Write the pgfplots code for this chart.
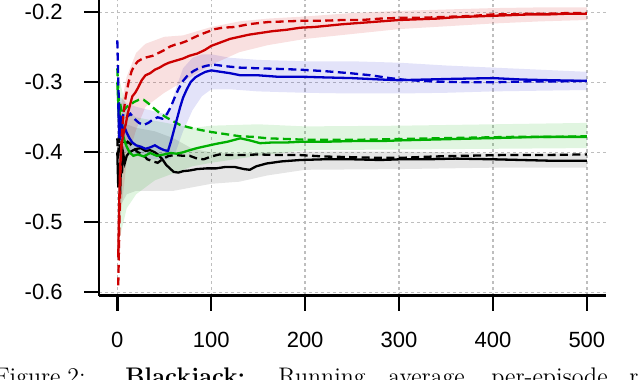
\documentclass[border=0pt]{standalone}
\usepackage{pgfplots}
\pgfplotsset{compat=1.18}
\usepackage{fontspec}
\newfontfamily\tickfont{Liberation Sans}
\definecolor{myred}{HTML}{CC0000}
\definecolor{myblue}{HTML}{0000C8}
\definecolor{mygreen}{HTML}{00B000}
\definecolor{gridgray}{HTML}{BEBEBE}
\begin{document}
\begin{tikzpicture}
\useasboundingbox (0pt,0pt) rectangle (320pt,-189.5pt);
\clip (0pt,0pt) rectangle (320pt,-189.5pt);
\begin{axis}[
  at={(49.5pt,-147.75pt)}, anchor=south west,
  scale only axis, width=253.5pt, height=147.75pt,
  xmin=-19.5, xmax=520.4, ymin=-0.6046, ymax=-0.18243,
  axis x line*=bottom, axis y line*=left,
  axis line style={line width=1.2pt,-},
  xtick={0,100,200,300,400,500},
  xticklabels={0,100,200,300,400,500},
  ytick={-0.6,-0.5,-0.4,-0.3,-0.2},
  yticklabels={-0.6,-0.5,-0.4,-0.3,-0.2},
  tick align=outside, major tick length=7.5pt,
  tick style={line width=1.2pt, black},
  ticklabel style={font=\tickfont\fontsize{11}{13}\selectfont, inner sep=0pt},
  xticklabel style={anchor=north, yshift=-10.5pt},
  yticklabel style={anchor=east, xshift=-10.5pt},
  grid=major,
  major grid style={gridgray, line width=0.65pt, dash pattern=on 1.5pt off 1.5pt},
  every axis plot/.append style={line width=1.15pt},
  dsh/.style={dash pattern=on 4pt off 2.2pt},
]
% ---- bands ----
\addplot[draw=none, fill=black, fill opacity=0.10] coordinates {
(2,-0.35) (10,-0.36) (20,-0.365) (40,-0.37) (60,-0.38) (80,-0.395) (100,-0.40) (130,-0.402) (160,-0.40) (200,-0.399) (300,-0.399) (400,-0.401) (500,-0.402)
(500,-0.422) (400,-0.422) (300,-0.424) (200,-0.425) (160,-0.433) (130,-0.442) (100,-0.445) (80,-0.45) (60,-0.455) (40,-0.455) (20,-0.455) (10,-0.46) (2,-0.48)};
\addplot[draw=none, fill=mygreen, fill opacity=0.12] coordinates {
(3,-0.30) (10,-0.34) (20,-0.35) (40,-0.355) (60,-0.36) (80,-0.365) (100,-0.362) (150,-0.36) (200,-0.363) (300,-0.362) (400,-0.36) (500,-0.358)
(500,-0.394) (400,-0.395) (300,-0.396) (200,-0.397) (150,-0.405) (100,-0.415) (80,-0.42) (60,-0.43) (40,-0.44) (20,-0.46) (10,-0.48) (3,-0.52)};
\addplot[draw=none, fill=myblue, fill opacity=0.11] coordinates {
(2,-0.32) (10,-0.33) (20,-0.335) (35,-0.34) (50,-0.345) (56,-0.34) (62,-0.31) (70,-0.28) (80,-0.265) (90,-0.26) (100,-0.26) (120,-0.265) (150,-0.268) (200,-0.27) (250,-0.27) (300,-0.272) (350,-0.276) (400,-0.279) (450,-0.282) (500,-0.285)
(500,-0.311) (450,-0.312) (400,-0.313) (350,-0.315) (300,-0.316) (250,-0.316) (200,-0.315) (150,-0.313) (120,-0.31) (100,-0.31) (90,-0.32) (80,-0.34) (70,-0.37) (62,-0.40) (56,-0.41) (50,-0.41) (35,-0.41) (20,-0.405) (10,-0.40) (2,-0.40)};
\addplot[draw=none, fill=myred, fill opacity=0.12] coordinates {
(3,-0.34) (10,-0.292) (20,-0.258) (30,-0.245) (50,-0.235) (70,-0.233) (100,-0.221) (130,-0.213) (160,-0.209) (200,-0.206) (250,-0.201) (300,-0.198) (350,-0.196) (400,-0.194) (450,-0.193) (500,-0.193)
(500,-0.211) (450,-0.213) (400,-0.216) (350,-0.220) (300,-0.224) (250,-0.231) (200,-0.238) (160,-0.247) (130,-0.257) (100,-0.275) (70,-0.299) (50,-0.315) (30,-0.335) (20,-0.368) (10,-0.412) (3,-0.50)};
% ---- black ----
\addplot[black] coordinates {
(0,-0.40) (1,-0.45) (2,-0.42) (3,-0.46) (4,-0.41) (5,-0.43) (6,-0.40) (8,-0.415) (10,-0.405) (13,-0.40) (17,-0.397) (21,-0.395) (25,-0.394) (30,-0.398) (35,-0.397) (40,-0.40) (44,-0.404) (48,-0.41) (52,-0.418) (56,-0.423) (60,-0.428) (65,-0.429) (70,-0.427) (77,-0.426) (85,-0.424) (95,-0.423) (105,-0.423) (115,-0.421) (125,-0.421) (135,-0.424) (141,-0.425) (148,-0.42) (159,-0.416) (175,-0.413) (195,-0.411) (220,-0.41) (250,-0.41) (280,-0.411) (301,-0.41) (330,-0.41) (360,-0.409) (400,-0.41) (430,-0.411) (460,-0.412) (500,-0.412)};
\addplot[black, dsh] coordinates {
(0,-0.38) (1,-0.41) (2,-0.37) (3,-0.40) (5,-0.385) (8,-0.39) (11,-0.385) (14,-0.388) (18,-0.395) (22,-0.40) (27,-0.403) (32,-0.41) (38,-0.413) (43,-0.415) (49,-0.409) (55,-0.405) (63,-0.404) (70,-0.405) (77,-0.405) (85,-0.409) (92,-0.41) (100,-0.406) (109,-0.403) (120,-0.404) (135,-0.404) (150,-0.403) (170,-0.404) (195,-0.404) (220,-0.406) (250,-0.407) (280,-0.408) (301,-0.408) (337,-0.406) (370,-0.405) (408,-0.404) (450,-0.404) (500,-0.403)};
% ---- green ----
\addplot[mygreen] coordinates {
(0,-0.30) (1,-0.33) (2,-0.36) (3,-0.35) (4,-0.37) (5,-0.355) (6,-0.375) (8,-0.385) (10,-0.392) (13,-0.40) (17,-0.405) (22,-0.403) (28,-0.406) (35,-0.401) (42,-0.405) (50,-0.403) (57,-0.401) (63,-0.402) (70,-0.40) (77,-0.397) (85,-0.394) (95,-0.391) (105,-0.388) (117,-0.385) (131,-0.38) (141,-0.383) (152,-0.387) (165,-0.386) (180,-0.386) (195,-0.385) (220,-0.385) (250,-0.384) (280,-0.384) (301,-0.383) (330,-0.382) (360,-0.381) (390,-0.38) (420,-0.379) (450,-0.378) (480,-0.378) (500,-0.378)};
\addplot[mygreen, dsh] coordinates {
(0,-0.28) (1,-0.31) (2,-0.34) (3,-0.33) (5,-0.345) (7,-0.34) (10,-0.335) (14,-0.332) (18,-0.328) (23,-0.325) (28,-0.325) (33,-0.33) (38,-0.336) (45,-0.344) (52,-0.35) (60,-0.356) (67,-0.361) (75,-0.364) (88,-0.368) (100,-0.371) (115,-0.374) (130,-0.377) (145,-0.378) (160,-0.38) (180,-0.381) (200,-0.382) (230,-0.382) (260,-0.382) (300,-0.381) (340,-0.38) (380,-0.379) (420,-0.378) (460,-0.378) (500,-0.377)};
% ---- blue ----
\addplot[myblue] coordinates {
(1,-0.33) (2,-0.38) (3,-0.35) (4,-0.37) (5,-0.36) (6,-0.375) (8,-0.365) (10,-0.372) (13,-0.38) (16,-0.386) (20,-0.39) (25,-0.392) (30,-0.395) (35,-0.393) (40,-0.39) (45,-0.394) (50,-0.397) (54,-0.398) (57,-0.385) (60,-0.37) (63,-0.355) (67,-0.335) (70,-0.322) (74,-0.31) (78,-0.30) (83,-0.293) (88,-0.289) (94,-0.285) (100,-0.283) (110,-0.285) (120,-0.287) (131,-0.29) (150,-0.29) (170,-0.292) (195,-0.292) (220,-0.293) (250,-0.294) (280,-0.296) (300,-0.297) (330,-0.296) (360,-0.295) (400,-0.294) (430,-0.296) (460,-0.297) (500,-0.298)};
\addplot[myblue, dsh] coordinates {
(0,-0.24) (1,-0.30) (2,-0.34) (3,-0.36) (5,-0.35) (7,-0.345) (10,-0.35) (14,-0.345) (18,-0.352) (23,-0.358) (28,-0.361) (33,-0.358) (38,-0.353) (43,-0.35) (48,-0.352) (53,-0.345) (57,-0.335) (61,-0.322) (65,-0.31) (70,-0.298) (75,-0.29) (81,-0.284) (88,-0.279) (96,-0.276) (104,-0.275) (115,-0.277) (130,-0.279) (150,-0.28) (175,-0.281) (195,-0.282) (220,-0.284) (248,-0.287) (270,-0.29) (290,-0.294) (310,-0.297) (340,-0.299) (372,-0.30) (400,-0.30) (430,-0.299) (460,-0.299) (500,-0.298)};
% ---- red ----
\addplot[myred] coordinates {
(1,-0.55) (2,-0.47) (3,-0.42) (4,-0.40) (5,-0.385) (7,-0.37) (9,-0.36) (11,-0.345) (13,-0.335) (16,-0.32) (19,-0.315) (22,-0.308) (26,-0.297) (30,-0.29) (35,-0.287) (40,-0.282) (45,-0.279) (50,-0.275) (55,-0.272) (60,-0.27) (65,-0.268) (70,-0.266) (77,-0.262) (85,-0.259) (93,-0.254) (100,-0.248) (110,-0.243) (120,-0.238) (130,-0.235) (140,-0.232) (150,-0.23) (165,-0.227) (180,-0.225) (195,-0.222) (210,-0.221) (225,-0.219) (240,-0.217) (260,-0.215) (280,-0.213) (300,-0.211) (320,-0.21) (340,-0.209) (360,-0.207) (380,-0.206) (400,-0.205) (420,-0.204) (440,-0.203) (460,-0.203) (480,-0.202) (500,-0.202)};
\addplot[myred, dsh] coordinates {
(1,-0.59) (2,-0.52) (3,-0.45) (4,-0.40) (5,-0.37) (7,-0.34) (9,-0.32) (12,-0.30) (15,-0.285) (18,-0.276) (22,-0.27) (27,-0.266) (32,-0.264) (38,-0.262) (44,-0.258) (50,-0.254) (56,-0.249) (62,-0.246) (68,-0.244) (74,-0.241) (80,-0.237) (88,-0.232) (96,-0.228) (104,-0.224) (112,-0.222) (125,-0.221) (140,-0.217) (160,-0.214) (180,-0.213) (200,-0.212) (220,-0.212) (240,-0.211) (260,-0.211) (280,-0.209) (300,-0.208) (320,-0.208) (340,-0.207) (360,-0.206) (380,-0.205) (400,-0.203) (420,-0.203) (440,-0.202) (460,-0.202) (480,-0.201) (500,-0.201)};
\end{axis}
% caption (cut off at the bottom, as in the reference)
\begin{scope}[every node/.style={anchor=base west, inner sep=0pt, font=\fontsize{12}{14}\selectfont}]
\node at (-3pt,-192pt) {Figure};
\node at (33.5pt,-192pt) {2:};
\node at (62.5pt,-192pt) {\textbf{Blackjack:}};
\node at (139pt,-192pt) {Running};
\node at (194pt,-192pt) {average};
\node at (245.5pt,-192pt) {per-episode};
\node at (314.5pt,-192pt) {r};
\end{scope}
\end{tikzpicture}
\end{document}
